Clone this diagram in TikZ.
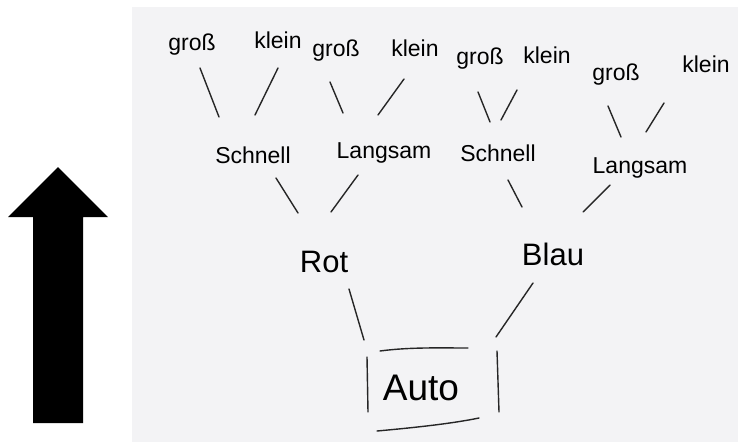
\documentclass[tikz,border=0pt]{standalone}
\usepackage{fontspec}
\setmainfont{Liberation Sans}
\definecolor{paper}{RGB}{243,243,245}
\begin{document}
\begin{tikzpicture}[x=1pt,y=-1pt,
  word/.style={inner sep=0pt,font=\fontsize{23}{23}\selectfont},
  big/.style={inner sep=0pt,font=\fontsize{31}{31}\selectfont},
  stroke/.style={line width=1.4pt,line cap=round,black!85}]
\useasboundingbox (0,0) rectangle (738,442);
\fill[white] (0,0) rectangle (738,442);
\fill[paper] (132,7) rectangle (738,442);
% big arrow
\fill[black] (58,167) -- (108,217) -- (83,217) -- (83,423) -- (33,423) -- (33,217) -- (8,217) -- cycle;
% leaves
\node[word] (g1) at (192,45) {groß};
\node[word] (k1) at (278,40) {klein};
\node[word] (g2) at (336,51) {groß};
\node[word] (k2) at (415,48) {klein};
\node[word] (g3) at (480,59) {groß};
\node[word] (k3) at (547,55) {klein};
\node[word] (g4) at (616,75) {groß};
\node[word] (k4) at (706,64) {klein};
% middle
\node[word] (s1) at (253,155) {Schnell};
\node[word] (l1) at (384,153) {Langsam};
\node[word] (s2) at (498,153) {Schnell};
\node[word] (l2) at (640,168) {Langsam};
% colours
\node[big] (rot) at (324,262) {Rot};
\node[big] (blau) at (553,254) {Blau};
% root
\node[inner sep=0pt,font=\fontsize{37}{37}\selectfont] (auto) at (421,388) {Auto};
% connector ends
\coordinate (a1) at (200,68);  \coordinate (b1) at (219,117);
\coordinate (a2) at (278,68);  \coordinate (b2) at (255,115);
\coordinate (a3) at (330,82);  \coordinate (b3) at (343,113);
\coordinate (a4) at (404,79);  \coordinate (b4) at (378,115);
\coordinate (a5) at (478,92);  \coordinate (b5) at (490,122);
\coordinate (a6) at (517,90);  \coordinate (b6) at (501,120);
\coordinate (a7) at (608,106); \coordinate (b7) at (621,137);
\coordinate (a8) at (664,103); \coordinate (b8) at (646,132);
\coordinate (c1) at (276,178); \coordinate (d1) at (298,213);
\coordinate (c2) at (358,175); \coordinate (d2) at (331,212);
\coordinate (c3) at (508,180); \coordinate (d3) at (522,207);
\coordinate (c4) at (610,185); \coordinate (d4) at (583,212);
\coordinate (e1) at (349,289); \coordinate (f1) at (364,340);
\coordinate (e2) at (533,283); \coordinate (f2) at (496,337);
\foreach \p/\q in {a1/b1,a2/b2,a3/b3,a4/b4,a5/b5,a6/b6,a7/b7,a8/b8,c1/d1,c2/d2,c3/d3,c4/d4,e1/f1,e2/f2}
  \draw[stroke] (\p) -- (\q);
% hand-drawn box round Auto
\draw[stroke] (380,351) .. controls (410,347) and (440,348) .. (468,348);
\draw[stroke] (367,357) -- (368,412);
\draw[stroke] (497,351) -- (499,412);
\draw[stroke] (377,431) .. controls (410,428) and (450,424) .. (479,418);
\end{tikzpicture}
\end{document}
